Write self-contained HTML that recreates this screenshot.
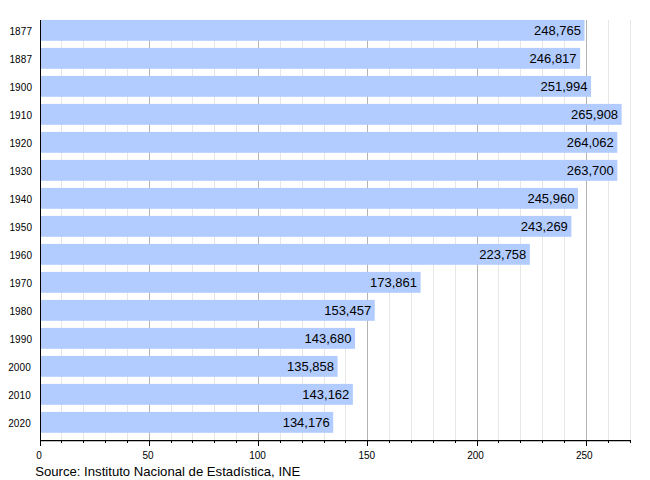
<!DOCTYPE html><html><head><meta charset="utf-8"><style>html,body{margin:0;padding:0;background:#fff}svg{display:block}text{font-family:"Liberation Sans",sans-serif;fill:#000}</style></head><body>
<svg width="650" height="480" viewBox="0 0 650 480">
<rect width="650" height="480" fill="#fff"/>
<line x1="61.5" y1="20" x2="61.5" y2="440" stroke="#e6e6e6" stroke-width="1"/>
<line x1="83.5" y1="20" x2="83.5" y2="440" stroke="#e6e6e6" stroke-width="1"/>
<line x1="105.5" y1="20" x2="105.5" y2="440" stroke="#e6e6e6" stroke-width="1"/>
<line x1="127.5" y1="20" x2="127.5" y2="440" stroke="#e6e6e6" stroke-width="1"/>
<line x1="149.5" y1="20" x2="149.5" y2="440" stroke="#b3b3b3" stroke-width="1"/>
<line x1="171.5" y1="20" x2="171.5" y2="440" stroke="#e6e6e6" stroke-width="1"/>
<line x1="192.5" y1="20" x2="192.5" y2="440" stroke="#e6e6e6" stroke-width="1"/>
<line x1="214.5" y1="20" x2="214.5" y2="440" stroke="#e6e6e6" stroke-width="1"/>
<line x1="236.5" y1="20" x2="236.5" y2="440" stroke="#e6e6e6" stroke-width="1"/>
<line x1="258.5" y1="20" x2="258.5" y2="440" stroke="#b3b3b3" stroke-width="1"/>
<line x1="280.5" y1="20" x2="280.5" y2="440" stroke="#e6e6e6" stroke-width="1"/>
<line x1="302.5" y1="20" x2="302.5" y2="440" stroke="#e6e6e6" stroke-width="1"/>
<line x1="324.5" y1="20" x2="324.5" y2="440" stroke="#e6e6e6" stroke-width="1"/>
<line x1="345.5" y1="20" x2="345.5" y2="440" stroke="#e6e6e6" stroke-width="1"/>
<line x1="367.5" y1="20" x2="367.5" y2="440" stroke="#b3b3b3" stroke-width="1"/>
<line x1="389.5" y1="20" x2="389.5" y2="440" stroke="#e6e6e6" stroke-width="1"/>
<line x1="411.5" y1="20" x2="411.5" y2="440" stroke="#e6e6e6" stroke-width="1"/>
<line x1="433.5" y1="20" x2="433.5" y2="440" stroke="#e6e6e6" stroke-width="1"/>
<line x1="455.5" y1="20" x2="455.5" y2="440" stroke="#e6e6e6" stroke-width="1"/>
<line x1="477.5" y1="20" x2="477.5" y2="440" stroke="#b3b3b3" stroke-width="1"/>
<line x1="498.5" y1="20" x2="498.5" y2="440" stroke="#e6e6e6" stroke-width="1"/>
<line x1="520.5" y1="20" x2="520.5" y2="440" stroke="#e6e6e6" stroke-width="1"/>
<line x1="542.5" y1="20" x2="542.5" y2="440" stroke="#e6e6e6" stroke-width="1"/>
<line x1="564.5" y1="20" x2="564.5" y2="440" stroke="#e6e6e6" stroke-width="1"/>
<line x1="586.5" y1="20" x2="586.5" y2="440" stroke="#b3b3b3" stroke-width="1"/>
<line x1="608.5" y1="20" x2="608.5" y2="440" stroke="#e6e6e6" stroke-width="1"/>
<line x1="630.5" y1="20" x2="630.5" y2="440" stroke="#e6e6e6" stroke-width="1"/>
<rect x="41" y="19.90" width="543.51" height="20.9" fill="#b2ccff"/>
<rect x="41" y="47.90" width="539.14" height="20.9" fill="#b2ccff"/>
<rect x="41" y="75.90" width="550.07" height="20.9" fill="#b2ccff"/>
<rect x="41" y="103.90" width="580.66" height="20.9" fill="#b2ccff"/>
<rect x="41" y="131.90" width="576.29" height="20.9" fill="#b2ccff"/>
<rect x="41" y="159.90" width="576.29" height="20.9" fill="#b2ccff"/>
<rect x="41" y="187.90" width="536.96" height="20.9" fill="#b2ccff"/>
<rect x="41" y="215.90" width="530.40" height="20.9" fill="#b2ccff"/>
<rect x="41" y="243.90" width="488.88" height="20.9" fill="#b2ccff"/>
<rect x="41" y="271.90" width="379.62" height="20.9" fill="#b2ccff"/>
<rect x="41" y="299.90" width="333.73" height="20.9" fill="#b2ccff"/>
<rect x="41" y="327.90" width="314.07" height="20.9" fill="#b2ccff"/>
<rect x="41" y="355.90" width="296.59" height="20.9" fill="#b2ccff"/>
<rect x="41" y="383.90" width="311.88" height="20.9" fill="#b2ccff"/>
<rect x="41" y="411.90" width="292.21" height="20.9" fill="#b2ccff"/>
<line x1="40.5" y1="20" x2="40.5" y2="441" stroke="#000" stroke-width="1"/>
<line x1="40" y1="440.6" x2="631" y2="440.6" stroke="#000" stroke-width="1.2"/>
<line x1="40.5" y1="441" x2="40.5" y2="446" stroke="#000" stroke-width="1"/>
<line x1="61.5" y1="441" x2="61.5" y2="443" stroke="#000" stroke-width="1"/>
<line x1="83.5" y1="441" x2="83.5" y2="443" stroke="#000" stroke-width="1"/>
<line x1="105.5" y1="441" x2="105.5" y2="443" stroke="#000" stroke-width="1"/>
<line x1="127.5" y1="441" x2="127.5" y2="443" stroke="#000" stroke-width="1"/>
<line x1="149.5" y1="441" x2="149.5" y2="446" stroke="#000" stroke-width="1"/>
<line x1="171.5" y1="441" x2="171.5" y2="443" stroke="#000" stroke-width="1"/>
<line x1="192.5" y1="441" x2="192.5" y2="443" stroke="#000" stroke-width="1"/>
<line x1="214.5" y1="441" x2="214.5" y2="443" stroke="#000" stroke-width="1"/>
<line x1="236.5" y1="441" x2="236.5" y2="443" stroke="#000" stroke-width="1"/>
<line x1="258.5" y1="441" x2="258.5" y2="446" stroke="#000" stroke-width="1"/>
<line x1="280.5" y1="441" x2="280.5" y2="443" stroke="#000" stroke-width="1"/>
<line x1="302.5" y1="441" x2="302.5" y2="443" stroke="#000" stroke-width="1"/>
<line x1="324.5" y1="441" x2="324.5" y2="443" stroke="#000" stroke-width="1"/>
<line x1="345.5" y1="441" x2="345.5" y2="443" stroke="#000" stroke-width="1"/>
<line x1="367.5" y1="441" x2="367.5" y2="446" stroke="#000" stroke-width="1"/>
<line x1="389.5" y1="441" x2="389.5" y2="443" stroke="#000" stroke-width="1"/>
<line x1="411.5" y1="441" x2="411.5" y2="443" stroke="#000" stroke-width="1"/>
<line x1="433.5" y1="441" x2="433.5" y2="443" stroke="#000" stroke-width="1"/>
<line x1="455.5" y1="441" x2="455.5" y2="443" stroke="#000" stroke-width="1"/>
<line x1="477.5" y1="441" x2="477.5" y2="446" stroke="#000" stroke-width="1"/>
<line x1="498.5" y1="441" x2="498.5" y2="443" stroke="#000" stroke-width="1"/>
<line x1="520.5" y1="441" x2="520.5" y2="443" stroke="#000" stroke-width="1"/>
<line x1="542.5" y1="441" x2="542.5" y2="443" stroke="#000" stroke-width="1"/>
<line x1="564.5" y1="441" x2="564.5" y2="443" stroke="#000" stroke-width="1"/>
<line x1="586.5" y1="441" x2="586.5" y2="446" stroke="#000" stroke-width="1"/>
<line x1="608.5" y1="441" x2="608.5" y2="443" stroke="#000" stroke-width="1"/>
<line x1="630.5" y1="441" x2="630.5" y2="443" stroke="#000" stroke-width="1"/>
<text x="39.10" y="458.8" font-size="10" text-anchor="middle">0</text>
<text x="148.00" y="458.8" font-size="10" text-anchor="middle">50</text>
<text x="257.50" y="458.8" font-size="10" text-anchor="middle">100</text>
<text x="366.80" y="458.8" font-size="10" text-anchor="middle">150</text>
<text x="475.50" y="458.8" font-size="10" text-anchor="middle">200</text>
<text x="584.30" y="458.8" font-size="10" text-anchor="middle">250</text>
<text x="9.4" y="35" font-size="10" letter-spacing="0.1">1877</text>
<text x="580.96" y="34.5" font-size="13" text-anchor="end">248,765</text>
<text x="9.4" y="63" font-size="10" letter-spacing="0.1">1887</text>
<text x="576.59" y="62.5" font-size="13" text-anchor="end">246,817</text>
<text x="9.4" y="91" font-size="10" letter-spacing="0.1">1900</text>
<text x="587.52" y="90.5" font-size="13" text-anchor="end">251,994</text>
<text x="9.4" y="119" font-size="10" letter-spacing="0.1">1910</text>
<text x="618.11" y="118.5" font-size="13" text-anchor="end">265,908</text>
<text x="9.4" y="147" font-size="10" letter-spacing="0.1">1920</text>
<text x="613.74" y="146.5" font-size="13" text-anchor="end">264,062</text>
<text x="9.4" y="175" font-size="10" letter-spacing="0.1">1930</text>
<text x="613.74" y="174.5" font-size="13" text-anchor="end">263,700</text>
<text x="9.4" y="203" font-size="10" letter-spacing="0.1">1940</text>
<text x="574.41" y="202.5" font-size="13" text-anchor="end">245,960</text>
<text x="9.4" y="231" font-size="10" letter-spacing="0.1">1950</text>
<text x="567.85" y="230.5" font-size="13" text-anchor="end">243,269</text>
<text x="9.4" y="259" font-size="10" letter-spacing="0.1">1960</text>
<text x="526.33" y="258.5" font-size="13" text-anchor="end">223,758</text>
<text x="9.4" y="287" font-size="10" letter-spacing="0.1">1970</text>
<text x="417.07" y="286.5" font-size="13" text-anchor="end">173,861</text>
<text x="9.4" y="315" font-size="10" letter-spacing="0.1">1980</text>
<text x="371.18" y="314.5" font-size="13" text-anchor="end">153,457</text>
<text x="9.4" y="343" font-size="10" letter-spacing="0.1">1990</text>
<text x="351.52" y="342.5" font-size="13" text-anchor="end">143,680</text>
<text x="8.2" y="371" font-size="10" letter-spacing="0.1">2000</text>
<text x="334.04" y="370.5" font-size="13" text-anchor="end">135,858</text>
<text x="8.2" y="399" font-size="10" letter-spacing="0.1">2010</text>
<text x="349.33" y="398.5" font-size="13" text-anchor="end">143,162</text>
<text x="8.2" y="427" font-size="10" letter-spacing="0.1">2020</text>
<text x="329.66" y="426.5" font-size="13" text-anchor="end">134,176</text>
<text x="35.2" y="475.7" font-size="13.15">Source: Instituto Nacional de Estadística, INE</text>
</svg></body></html>
